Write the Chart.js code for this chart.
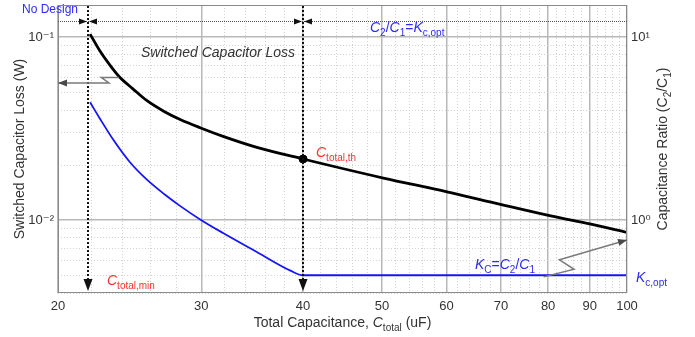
<!DOCTYPE html>
<html>
<head>
<meta charset="utf-8">
<script src="https://cdn.jsdelivr.net/npm/chart.js@4/dist/chart.umd.min.js"></script>
<style>
  html, body { margin: 0; padding: 0; background: #fff; }
  #myChart { display: block; }
</style>
</head>
<body>
<canvas id="myChart" width="695" height="337"></canvas>
<script>
// Switched capacitor loss (left axis, W) vs total capacitance (uF)
const capLoss = [21.9, 22.5, 23.2, 23.8, 24.7, 25.7, 27.0, 28.3, 29.9, 31.9, 35.1, 40, 50.2, 60.1, 69.9, 80.6, 90.3, 100];
const lossW   = [0.104, 0.0846, 0.0697, 0.0606, 0.0524, 0.0451, 0.0393, 0.0354, 0.0320, 0.0287, 0.0250, 0.0216, 0.0170, 0.0143, 0.0122, 0.01055, 0.00951, 0.00858];

// Capacitance ratio C2/C1 (right axis)
const capRatio = [21.9, 22.5, 23.4, 24.5, 25.7, 27.0, 28.3, 29.9, 31.9, 35.1, 38.6, 40, 50, 60, 70, 80, 90, 100];
const kRatio   = [4.41, 3.61, 2.74, 2.08, 1.67, 1.39, 1.19, 1.01, 0.851, 0.670, 0.530, 0.5, 0.5, 0.5, 0.5, 0.5, 0.5, 0.5];

// marked points
const cMin = 21.8;          // C_total,min
const cTh = 40;             // C_total,th
const lossTh = 0.0216;

// axis ticks
const xTicks = [];
for (let v = 20; v <= 100; v += 2) xTicks.push(v);
const xLabels = [20, 30, 40, 50, 60, 70, 80, 90, 100];
const yTicks = [0.004, 0.005, 0.006, 0.007, 0.008, 0.009, 0.01, 0.02, 0.03, 0.04, 0.05, 0.06, 0.07, 0.08, 0.09, 0.1];
const yLabels = { 0.01: "10\u207B\u00B2", 0.1: "10\u207B\u00B9" };
const y2Ticks = [1, 10];
const y2Labels = { 1: "10\u2070", 10: "10\u00B9" };

const FONT = '"Liberation Sans", Arial, "DejaVu Sans", sans-serif';

function isDecade(v) {
    const l = Math.log10(v);
    return Math.abs(l - Math.round(l)) < 1e-6;
}

// draws text made of pieces: i = italic, s = subscript
function rich(ctx, x, y, parts, size, color, align) {
    const fontOf = (st) => (st.includes("i") ? "italic " : "") + (st.includes("s") ? Math.round(size * 0.72) : size) + "px " + FONT;
    let w = 0;
    parts.forEach(([t, st]) => { ctx.font = fontOf(st); w += ctx.measureText(t).width; });
    let cx = align === "center" ? x - w / 2 : x;
    ctx.fillStyle = color;
    ctx.textBaseline = "alphabetic";
    ctx.textAlign = "left";
    parts.forEach(([t, st]) => {
        ctx.font = fontOf(st);
        ctx.fillText(t, cx, y + (st.includes("s") ? size * 0.28 : 0));
        cx += ctx.measureText(t).width;
    });
    return w;
}

function arrowHead(ctx, from, tip, len, half) {
    const ang = Math.atan2(tip[1] - from[1], tip[0] - from[0]);
    ctx.beginPath();
    ctx.moveTo(tip[0], tip[1]);
    ctx.lineTo(tip[0] - len * Math.cos(ang) + half * Math.sin(ang), tip[1] - len * Math.sin(ang) - half * Math.cos(ang));
    ctx.lineTo(tip[0] - len * Math.cos(ang) - half * Math.sin(ang), tip[1] - len * Math.sin(ang) + half * Math.cos(ang));
    ctx.closePath();
    ctx.fill();
}

const annotate = {
    id: "annotate",
    afterDatasetsDraw(chart) {
        const { ctx, chartArea: a, scales: { x, y, y2 } } = chart;
        ctx.save();

        // frame
        ctx.strokeStyle = "#8a8a8a";
        ctx.lineWidth = 1;
        ctx.strokeRect(a.left + 0.5, a.top + 0.5, a.right - a.left - 1, a.bottom - a.top - 1);

        // dotted vertical markers with arrows at the bottom
        [cMin, cTh].forEach(c => {
            const px = Math.round(x.getPixelForValue(c));
            ctx.strokeStyle = "#111";
            ctx.fillStyle = "#111";
            ctx.lineWidth = 2;
            ctx.setLineDash([2, 2]);
            ctx.beginPath();
            ctx.moveTo(px, a.top + 1);
            ctx.lineTo(px, a.bottom - 12);
            ctx.stroke();
            ctx.setLineDash([]);
            ctx.beginPath();
            ctx.moveTo(px - 4.5, a.bottom - 14);
            ctx.lineTo(px + 4.5, a.bottom - 14);
            ctx.lineTo(px, a.bottom - 2);
            ctx.closePath();
            ctx.fill();
        });

        // top dimension line
        const yTop = Math.round(y.getPixelForValue(0.123)) + 0.5;
        ctx.strokeStyle = "#555";
        ctx.lineWidth = 1;
        ctx.setLineDash([1, 1]);
        ctx.beginPath();
        ctx.moveTo(a.left, yTop);
        ctx.lineTo(a.right, yTop);
        ctx.stroke();
        ctx.setLineDash([]);
        ctx.fillStyle = "#111";
        [cMin, cTh].forEach(c => {
            const px = Math.round(x.getPixelForValue(c));
            arrowHead(ctx, [px - 10, yTop], [px - 1, yTop], 8, 3);
            arrowHead(ctx, [px + 10, yTop], [px + 1, yTop], 8, 3);
        });

        // gray pointer arrows
        const pt = (cx, v, sc) => [x.getPixelForValue(cx), sc.getPixelForValue(v)];
        ctx.strokeStyle = "#7a7a7a";
        ctx.fillStyle = "#4a4a4a";
        ctx.lineWidth = 1.5;
        const leftArrow = [pt(23.75, 0.0603, y), pt(22.6, 0.0603, y), pt(23.1, 0.0562, y), pt(20, 0.0562, y)];
        const rightArrow = [pt(79, 0.49, y2), pt(86.1, 0.539, y2), pt(82.6, 0.607, y2), pt(100, 0.78, y2)];
        [leftArrow, rightArrow].forEach(p => {
            ctx.beginPath();
            ctx.moveTo(p[0][0], p[0][1]);
            for (let i = 1; i < p.length; i++) ctx.lineTo(p[i][0], p[i][1]);
            ctx.stroke();
            arrowHead(ctx, p[p.length - 2], p[p.length - 1], 9, 3.5);
        });

        // texts
        const blue = "#2b2bff", red = "#ff3030";
        rich(ctx, 22, 13, [["No Design", ""]], 12, blue);
        rich(ctx, 141, 57, [["Switched Capacitor Loss", "i"]], 14, "#333");
        rich(ctx, 316, 157, [["C", "i"], ["total,th", "s"]], 14, red);
        rich(ctx, 107, 285, [["C", "i"], ["total,min", "s"]], 14, red);
        rich(ctx, 370, 32, [["C", "i"], ["2", "s"], ["/", ""], ["C", "i"], ["1", "s"], ["=", ""], ["K", "i"], ["c,opt", "s"]], 14, blue);
        rich(ctx, 475, 269, [["K", "i"], ["C", "s"], ["=", ""], ["C", "i"], ["2", "s"], ["/", ""], ["C", "i"], ["1", "s"]], 14, blue);
        rich(ctx, 636, 282, [["K", "i"], ["c,opt", "s"]], 14, blue);

        // axis titles
        rich(ctx, (a.left + a.right) / 2, 327, [["Total Capacitance, ", ""], ["C", "i"], ["total", "s"], [" (uF)", ""]], 14, "#333", "center");
        ctx.translate(667, (a.top + a.bottom) / 2);
        ctx.rotate(-Math.PI / 2);
        rich(ctx, 0, 0, [["Capacitance Ratio (C", ""], ["2", "s"], ["/C", ""], ["1", "s"], [")", ""]], 14, "#333", "center");

        ctx.restore();
    }
};

const isMajor = (c) => c.scale.id === "x" ? c.tick.value % 10 === 0 : isDecade(c.tick.value);
const gridColor = (c) => c.tick && isMajor(c) ? "#b8b8b8" : "#d2d2d2";
const gridWidth = (c) => c.tick && isMajor(c) ? 1.5 : 1;
const gridDash = (c) => c.tick && !isMajor(c) ? [1, 2] : [];

let config = {
    type: "line",
    data: {
        datasets: [
            {
                label: "Switched capacitor loss",
                data: capLoss.map((c, i) => ({ x: c, y: lossW[i] })),
                yAxisID: "y",
                borderColor: "#000",
                borderWidth: 2.8,
                pointRadius: 0,
                cubicInterpolationMode: "monotone",
                fill: false
            },
            {
                label: "Kc = C2/C1",
                data: capRatio.map((c, i) => ({ x: c, y: kRatio[i] })),
                yAxisID: "y2",
                borderColor: "#1414ff",
                borderWidth: 1.8,
                pointRadius: 0,
                cubicInterpolationMode: "monotone",
                fill: false
            },
            {
                label: "C_total,th",
                data: [{ x: cTh, y: lossTh }],
                yAxisID: "y",
                showLine: false,
                pointRadius: 4,
                pointBackgroundColor: "#000",
                pointBorderColor: "#000"
            }
        ]
    },
    options: {
        responsive: false,
        animation: false,
        layout: { padding: { top: 4, left: 0, right: 0, bottom: 0 } },
        plugins: {
            legend: { display: false },
            tooltip: { enabled: false }
        },
        scales: {
            x: {
                type: "logarithmic",
                min: 20,
                max: 100,
                afterBuildTicks: (s) => { s.ticks = xTicks.map(v => ({ value: v })); },
                afterFit: (s) => { s.height = 44; s.paddingLeft = 0; s.paddingRight = 0; },
                ticks: {
                    autoSkip: false,
                    maxRotation: 0,
                    padding: 6,
                    color: "#333",
                    font: { family: FONT, size: 13 },
                    callback: (v) => xLabels.includes(v) ? String(v) : ""
                },
                grid: { color: gridColor, lineWidth: gridWidth, drawTicks: false },
                border: { display: false, dash: gridDash }
            },
            y: {
                type: "logarithmic",
                position: "left",
                min: 0.004,
                max: 0.15,
                afterBuildTicks: (s) => { s.ticks = yTicks.map(v => ({ value: v })); },
                afterFit: (s) => { s.width = 58; s.paddingTop = 0; s.paddingBottom = 0; },
                ticks: {
                    autoSkip: false,
                    padding: 4,
                    color: "#333",
                    font: { family: FONT, size: 13 },
                    callback: (v) => isDecade(v) ? (yLabels[Math.round(v * 1000) / 1000] || "") : ""
                },
                title: {
                    display: true,
                    text: "Switched Capacitor Loss (W)",
                    color: "#333",
                    font: { family: FONT, size: 14 },
                    padding: { top: 12, bottom: 0 }
                },
                grid: { color: gridColor, lineWidth: gridWidth, drawTicks: false },
                border: { display: false, dash: gridDash }
            },
            y2: {
                type: "logarithmic",
                position: "right",
                min: 0.4,
                max: 15,
                afterBuildTicks: (s) => { s.ticks = y2Ticks.map(v => ({ value: v })); },
                afterFit: (s) => { s.width = 68; s.paddingTop = 0; s.paddingBottom = 0; },
                ticks: {
                    autoSkip: false,
                    padding: 4,
                    color: "#333",
                    font: { family: FONT, size: 13 },
                    callback: (v) => y2Labels[v] || ""
                },
                grid: { drawOnChartArea: false, drawTicks: false },
                border: { display: false }
            }
        }
    },
    plugins: [annotate]
};

let ctx = document.getElementById("myChart").getContext("2d");
let myChart = new Chart(ctx, config);
</script>
</body>
</html>
